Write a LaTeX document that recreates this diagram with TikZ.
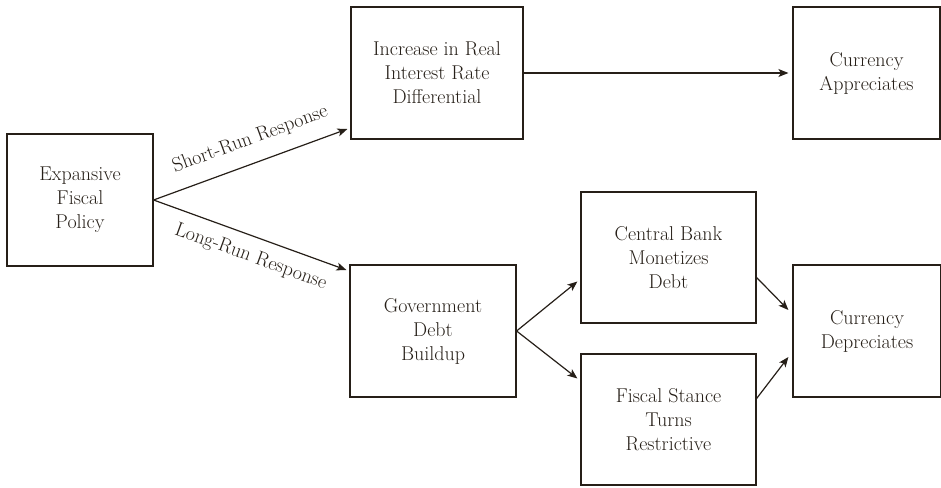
\documentclass[tikz,border=0pt]{standalone}
\usepackage{fontspec}
\setmainfont{Latin Modern Roman}
\usetikzlibrary{arrows.meta,calc}
\definecolor{ink}{RGB}{38,31,24}
\tikzset{
  box/.style={draw=ink, line width=1.2pt, text=ink, align=center, inner sep=0pt,
    font=\fontsize{20}{24}\selectfont},
  conn/.style={draw=ink, line width=1.2pt, -{Stealth[length=10pt,width=8pt,inset=2.5pt]}},
  lab/.style={text=ink, font=\fontsize{20}{22}\selectfont, sloped}
}
\begin{document}
\begin{tikzpicture}[x=1pt,y=-1pt]
\useasboundingbox (0,0) rectangle (941,487);
\node[box, minimum width=146pt, minimum height=132pt] (efp) at (80,200) {Expansive\\Fiscal\\Policy};
\node[box, minimum width=172pt, minimum height=132pt] (irr) at (437,73) {Increase in Real\\Interest Rate\\Differential};
\node[box, minimum width=147pt, minimum height=132pt] (ca) at (866.5,73) {Currency\\Appreciates};
\node[box, minimum width=166pt, minimum height=132pt] (gdb) at (433,331) {Government\\Debt\\Buildup};
\node[box, minimum width=175pt, minimum height=131pt] (cbm) at (668.5,257.5) {Central Bank\\Monetizes\\Debt};
\node[box, minimum width=175pt, minimum height=131pt] (fstr) at (668.5,419.5) {Fiscal Stance\\Turns\\Restrictive};
\node[box, minimum width=148pt, minimum height=132pt] (cd) at (867,331) {Currency\\Depreciates};

\draw[conn] (efp.east) -- node[lab, above, inner sep=14pt, pos=0.54] {Short-Run Response} ([xshift=-3pt,yshift=-56pt]irr.west);
\draw[conn] (efp.east) -- node[lab, below, inner sep=11pt, pos=0.54] {Long-Run Response} ([xshift=-3pt,yshift=61pt]gdb.west);
\draw[conn] (irr.east) -- ([xshift=-4pt]ca.west);
\draw[conn] (gdb.east) -- ([xshift=-3pt,yshift=-24pt]cbm.west);
\draw[conn] (gdb.east) -- ([xshift=-3pt,yshift=41pt]fstr.west);
\draw[conn] ([yshift=-20pt]cbm.east) -- ([xshift=-4pt,yshift=21pt]cd.west);
\draw[conn] ([yshift=21pt]fstr.east) -- ([xshift=-4pt,yshift=-26pt]cd.west);
\end{tikzpicture}
\end{document}
